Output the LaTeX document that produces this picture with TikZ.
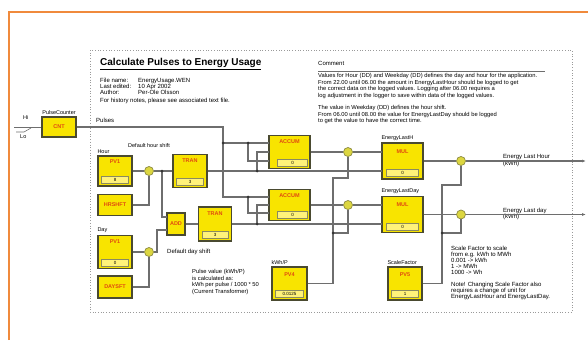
\documentclass[tikz,border=0pt]{standalone}
\usepackage{fontspec}
\setmainfont{Liberation Sans}
\usetikzlibrary{positioning,arrows.meta}

\definecolor{framec}{HTML}{F08A3C}
\definecolor{dotframe}{HTML}{9A9A9A}
\definecolor{blkfill}{HTML}{F8E400}
\definecolor{blkline}{HTML}{4A4A30}
\definecolor{tagred}{HTML}{E04A10}
\definecolor{valfill}{HTML}{FFF27A}
\definecolor{valline}{HTML}{8A8A60}
\definecolor{juncfill}{HTML}{DCD640}
\definecolor{juncline}{HTML}{8C8A40}
\definecolor{wirec}{HTML}{6E6E6E}

\begin{document}
\begin{tikzpicture}[
    x=1pt, y=-1pt,
    blk/.style={
        draw=blkline,
        fill=blkfill,
        line width=1.4pt,
        inner sep=0pt
    },
    tag/.style={
        text=tagred,
        font=\fontsize{5.5}{6}\selectfont\bfseries,
        inner sep=0pt
    },
    val/.style={
        draw=valline,
        fill=valfill,
        line width=0.4pt,
        minimum height=7pt,
        inner sep=0pt,
        font=\fontsize{4.5}{5}\selectfont
    },
    note/.style={
        font=\fontsize{6}{6.2}\selectfont,
        align=left,
        inner sep=0pt,
        anchor=north west
    },
    lbl/.style={
        note,
        font=\fontsize{5.5}{6}\selectfont
    },
    junc/.style={
        circle,
        draw=juncline,
        fill=juncfill,
        line width=0.7pt,
        minimum size=9pt,
        inner sep=0pt
    },
    wire/.style={draw=wirec, line width=1.1pt},
    outarrow/.style={wire, -{Latex[length=4pt,width=3pt]}}
]
\useasboundingbox (0,0) rectangle (588,340);

% frames
\draw[framec, line width=1.8pt] (9,340) -- (9,12) -- (588,12);
\draw[dotframe, dotted, line width=0.7pt] (90,50) rectangle (572,312);

% header texts
\node[anchor=north west, inner sep=0pt, font=\fontsize{10}{11}\selectfont\bfseries] (title) at (100,58.5)
    {\underline{Calculate Pulses to Energy Usage}};
\node[note, font=\fontsize{6}{6}\selectfont] (info) at (100,77.5) {%
    \makebox[38pt][l]{File name:}EnergyUsage.WEN\\
    \makebox[38pt][l]{Last edited:}10 Apr 2002\\
    \makebox[38pt][l]{Author:}Per-Ole Olsson\\[2pt]
    For history notes, please see associated text file.};
\node[note] (cmt) at (318,61) {Comment};
\draw[wirec, line width=0.6pt] (318,71) -- (545,71);
\node[note, font=\fontsize{5.8}{5.1}\selectfont] (cmt1) at (318,73.5) {%
    Values for Hour (DD) and Weekday (DD) defines the day and hour for the application.\\
    From 22.00 until 06.00 the amount in EnergyLastHour should be logged to get\\
    the correct data on the logged values. Logging after 06.00 requires a\\
    log adjustment in the logger to save within data of the logged values.};
\node[note, font=\fontsize{5.8}{5.1}\selectfont] (cmt2) at (318,105.5) {%
    The value in Weekday (DD) defines the hour shift.\\
    From 06.00 until 08.00 the value for EnergyLastDay should be logged\\
    to get the value to have the correct time.};

% pulse counter
\node[blk, minimum width=34pt, minimum height=20pt] (cnt) at (59,127) {};
\node[tag] (cntt) at (cnt) {CNT};
\node[lbl, above=1.5pt of cnt] (cntl) {PulseCounter};
\node[lbl] (hil) at (23,115) {Hi};
\node[lbl] (lol) at (20,135) {Lo};
\coordinate (hiend) at (14,127);
\coordinate (loend) at (16,132);
\coordinate (lotip) at (24,132);
\coordinate (lobend) at (31,128);
\draw[wire, line width=0.6pt] (hiend) -- (cnt.west);
\draw[wire, line width=0.6pt] (loend) -- (lotip) -- (lobend);
\node[note] (pulsel) at (96,118) {Pulses};

% hour shift
\node[blk, minimum width=34pt, minimum height=30pt] (pv1h) at (115,171) {};
\node[tag, below=4pt of pv1h.north] (pv1ht) {PV1};
\node[val, minimum width=27pt, above=3pt of pv1h.south] (pv1hv) {8};
\node[lbl, above right=1.5pt and 0pt of pv1h.north west] (pv1hl) {Hour};
\node[blk, minimum width=34pt, minimum height=21pt] (hrtb) at (115,205) {};
\node[tag] (hrtbt) at (hrtb) {HRSHFT};
\node[junc] (jh) at (149,171) {};
\node[lbl, anchor=south] (hshl) at (149,148) {Default hour shift};
\node[blk, minimum width=34pt, minimum height=33pt] (tran1) at (190,171) {};
\node[tag, below=5pt of tran1.north] (tran1t) {TRAN};
\node[val, minimum width=27pt, above=3pt of tran1.south] (tran1v) {3};

% day shift
\node[blk, minimum width=34pt, minimum height=33pt] (pv1d) at (115,252) {};
\node[tag, below=5pt of pv1d.north] (pv1dt) {PV1};
\node[val, minimum width=27pt, above=3pt of pv1d.south] (pv1dv) {0};
\node[lbl, above right=1.5pt and 0pt of pv1d.north west] (pv1dl) {Day};
\node[blk, minimum width=34pt, minimum height=22pt] (daytb) at (115,287) {};
\node[tag] (daytbt) at (daytb) {DAYSFT};
\node[junc] (jd) at (149,252) {};
\node[note] (dshl) at (167,249) {Default day shift};
\node[blk, minimum width=18pt, minimum height=22pt] (addb) at (176,224) {};
\node[tag] (addbt) at (addb) {ADD};
\node[blk, minimum width=33pt, minimum height=34pt] (tran2) at (215,224) {};
\node[tag, below=5pt of tran2.north] (tran2t) {TRAN};
\node[val, minimum width=26pt, above=3pt of tran2.south] (tran2v) {3};
\node[note, font=\fontsize{5.8}{6.4}\selectfont] (pvnote) at (192,269.5) {%
    Pulse value (kWh/P)\\
    is calculated as:\\
    kWh per pulse / 1000 * 50\\
    (Current Transformer)};

% accumulators
\node[blk, minimum width=41pt, minimum height=33pt] (acc1) at (289.5,152) {};
\node[tag, below=5pt of acc1.north] (acc1t) {ACCUM};
\node[val, minimum width=30pt, above=3pt of acc1.south east, anchor=south east, xshift=-3pt] (acc1v) {0};
\node[blk, minimum width=41pt, minimum height=31pt] (acc2) at (289.5,205) {};
\node[tag, below=5pt of acc2.north] (acc2t) {ACCUM};
\node[val, minimum width=30pt, above=3pt of acc2.south east, anchor=south east, xshift=-3pt] (acc2v) {0};
\coordinate (acc1p1) at (269,143);
\coordinate (acc1p2) at (269,152);
\coordinate (acc1p3) at (269,161);
\coordinate (acc2p1) at (269,197);
\coordinate (acc2p2) at (269,205);
\coordinate (acc2p3) at (269,213);
\node[junc] (j1) at (348,152) {};
\node[junc] (j2) at (348,205) {};

% energy blocks
\node[blk, minimum width=41pt, minimum height=36pt] (en1) at (402.5,161) {};
\node[tag, below=7pt of en1.north] (en1t) {MUL};
\node[val, minimum width=32pt, above=3pt of en1.south] (en1v) {0};
\node[lbl, above right=1.5pt and 0pt of en1.north west] (en1l) {EnergyLastH};
\node[blk, minimum width=41pt, minimum height=36pt] (en2) at (402.5,214.5) {};
\node[tag, below=7pt of en2.north] (en2t) {MUL};
\node[val, minimum width=32pt, above=3pt of en2.south] (en2v) {0};
\node[lbl, above right=1.5pt and 0pt of en2.north west] (en2l) {EnergyLastDay};
\coordinate (en1p1) at (382,152);
\coordinate (en1p2) at (382,171);
\coordinate (en2p1) at (382,205);
\coordinate (en2p2) at (382,224);
\node[junc] (j3) at (461,161) {};
\node[junc] (j4) at (461,214.5) {};
\coordinate (out1) at (586,161);
\coordinate (out2) at (586,214.5);
\node[note] (out1l) at (503,154.5) {Energy Last Hour\\(kWh)};
\node[note] (out2l) at (503,207.5) {Energy Last day\\(kWh)};

% pulse value and scale factor
\node[blk, minimum width=35pt, minimum height=33pt] (pulsev) at (289.5,283.5) {};
\node[tag, below=6pt of pulsev.north] (pulsevt) {PV4};
\node[val, minimum width=28pt, above=3pt of pulsev.south] (pulsevv) {0.0125};
\node[lbl, above right=1.5pt and 0pt of pulsev.north west] (pulsevl) {kWh/P};
\node[blk, minimum width=34pt, minimum height=33pt] (scale) at (405,283.5) {};
\node[tag, below=6pt of scale.north] (scalet) {PV5};
\node[val, minimum width=27pt, above=3pt of scale.south] (scalev) {1};
\node[lbl, above right=1.5pt and 0pt of scale.north west] (scalel) {ScaleFactor};
\node[note] (sfnote) at (451,245.5) {%
    Scale Factor to scale\\
    from e.g. kWh to MWh\\
    0.001 -> kWh\\
    1 -> MWh\\
    1000 -> Wh\\[5pt]
    Note! Changing Scale Factor also\\
    requires a change of unit for\\
    EnergyLastHour and EnergyLastDay.};

% wiring
\coordinate (pb1) at (223,143);
\coordinate (b1) at (248,143);
\coordinate (b2) at (257,171);
\coordinate (b3) at (248,197);
\coordinate (b4) at (257,224);
\coordinate (b5) at (333,233);
\coordinate (k1) at (333,178);
\coordinate (b6) at (442,233);
\coordinate (k2) at (442,185);
\coordinate (b7) at (162,171);
\coordinate (k3) at (157,252);
\coordinate (addp1) at (167,217);
\coordinate (addp2) at (167,230);

\draw[wire] (cnt.east) -| (pb1) |- (acc2p1);
\draw[wire] (pb1) -- (acc1p1);
\draw[wire] (b1) |- (acc1p3);
\draw[wire] (b2) |- (acc1p2);
\draw[wire] (b3) |- (acc2p3);
\draw[wire] (b4) |- (acc2p2);

\draw[wire] (pv1h.east) -- (jh);
\draw[wire] (hrtb.east) -| (jh.south);
\draw[wire] (jh) -- (tran1.west);
\draw[wire] (b7) |- (addp1);
\draw[wire] (pv1d.east) -- (jd);
\draw[wire] (daytb.east) -| (jd.south);
\draw[wire] (jd.east) -- (k3) |- (addp2);
\draw[wire] (addb.east) -- (tran2.west);
\draw[wire] (tran1.east) -- (en1p2);
\draw[wire] (tran2.east) -- (en2p2);

\draw[wire] (acc1.east) -- (j1);
\draw[wire] (j1) -- (en1p1);
\draw[wire] (acc2.east) -- (j2);
\draw[wire] (j2) -- (en2p1);
\draw[wire] (pulsev.east) -| (b5);
\draw[wire] (b5) -- (k1) -| (j1.south);
\draw[wire] (b5) -| (j2.south);

\draw[wire] (en1.east) -- (j3);
\draw[wire] (en2.east) -- (j4);
\draw[wire] (scale.east) -| (b6);
\draw[wire] (b6) -- (k2) -| (j3.south);
\draw[wire] (b6) -| (j4.south);
\draw[outarrow] (j3) -- (out1);
\draw[outarrow] (j4) -- (out2);

\foreach \d in {pb1,b1,b2,b3,b4,b5,b6,b7}
    \fill[black!80] (\d) circle (1.5pt);

\end{tikzpicture}
\end{document}
